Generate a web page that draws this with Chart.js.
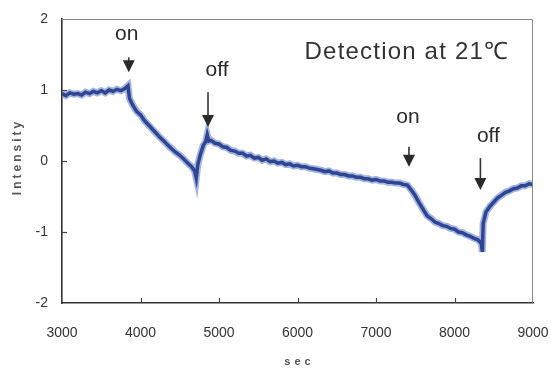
<!DOCTYPE html>
<html>
<head>
<meta charset="utf-8">
<script src="https://cdn.jsdelivr.net/npm/chart.js@4/dist/chart.umd.min.js"></script>
<style>
html,body{margin:0;padding:0;background:#fff;}
canvas{display:block;}
</style>
</head>
<body>
<canvas id="c" width="551" height="370"></canvas>
<script>
// ---- data ----
const timeSec = [3000,3050,3100,3150,3200,3250,3300,3350,3400,3450,3500,3550,3600,3650,3700,3750,3800,3840,
  3860,3900,3950,4000,4050,4100,4150,4200,4250,4300,4350,4400,4450,4500,4550,4600,4650,4690,4710,
  4730,4760,4800,4830,4850,4870,4900,4950,5000,5050,5100,5150,5200,5250,5300,5350,5400,5450,5500,
  5550,5600,5650,5700,5750,5800,5850,5900,5950,6000,6050,6100,6150,6200,6250,6300,6350,6400,6450,
  6500,6550,6600,6650,6700,6750,6800,6850,6900,6950,7000,7050,7100,7150,7200,7250,7300,7350,7400,
  7450,7500,7550,7600,7650,7700,7750,7800,7850,7900,7950,8000,8050,8100,8150,8200,8250,8300,8340,
  8355,8365,8400,8450,8500,8550,8600,8650,8700,8750,8800,8850,8900,8950,9000];
const intensity = [0.95,0.92,0.96,0.94,0.95,0.93,0.97,0.95,0.98,0.96,0.99,0.96,1.00,0.98,1.01,0.99,1.02,1.06,
  0.88,0.79,0.70,0.65,0.57,0.51,0.45,0.39,0.33,0.28,0.22,0.17,0.12,0.08,0.03,-0.03,-0.08,-0.14,-0.24,
  -0.05,0.08,0.22,0.27,0.37,0.28,0.29,0.25,0.24,0.20,0.19,0.15,0.14,0.11,0.11,0.07,0.08,0.04,0.05,
  0.01,0.03,-0.01,0.00,-0.03,-0.02,-0.05,-0.04,-0.07,-0.06,-0.08,-0.08,-0.10,-0.11,-0.12,-0.13,-0.15,-0.14,-0.17,
  -0.17,-0.19,-0.19,-0.21,-0.21,-0.23,-0.23,-0.25,-0.25,-0.27,-0.26,-0.28,-0.28,-0.30,-0.30,-0.31,-0.31,-0.33,-0.34,
  -0.41,-0.49,-0.59,-0.68,-0.77,-0.81,-0.86,-0.88,-0.91,-0.92,-0.95,-0.96,-1.00,-1.01,-1.04,-1.06,-1.09,-1.11,-1.16,
  -1.28,-0.88,-0.72,-0.64,-0.58,-0.52,-0.48,-0.44,-0.42,-0.39,-0.38,-0.35,-0.35,-0.32,-0.33];
const xTicks = [3000,4000,5000,6000,7000,8000,9000];
const yTicks = [-2,-1,0,1,2];
const eventLabels = ['on','off','on','off'];
const eventTimes = [3850,4860,7420,8330];
const noteText = 'Detection at 21\u2103';
const xTitle = 'sec';
const yTitle = 'Intensity';

// ---- annotation placement (data units) ----
const eventLayout = [
  {dx:-2, textY:1.79, top:1.46, tip:1.25},
  {dx:9,  textY:1.28, top:0.97, tip:0.48},
  {dx:-1, textY:0.61, top:0.20, tip:-0.08},
  {dx:8,  textY:0.35, top:0.04, tip:-0.41}
];

const points = timeSec.map((t,i)=>({x:t,y:intensity[i]}));

const decor = {
  id:'decor',
  afterDatasetsDraw(chart){
    const ctx = chart.ctx, xs = chart.scales.x, ys = chart.scales.y, a = chart.chartArea;
    ctx.save();
    // box top/right
    ctx.strokeStyle = '#8a8a8a'; ctx.lineWidth = 1;
    ctx.beginPath();
    ctx.moveTo(a.left, a.top+0.5); ctx.lineTo(a.right-0.5, a.top+0.5); ctx.lineTo(a.right-0.5, a.bottom);
    ctx.stroke();
    // inward ticks
    ctx.strokeStyle = '#444'; ctx.lineWidth = 1.2;
    xTicks.slice(1,-1).forEach(v=>{
      const px = Math.round(xs.getPixelForValue(v))+0.5;
      ctx.beginPath(); ctx.moveTo(px, a.bottom); ctx.lineTo(px, a.bottom-5); ctx.stroke();
    });
    yTicks.slice(1,-1).forEach(v=>{
      const py = Math.round(ys.getPixelForValue(v))+0.5;
      ctx.beginPath(); ctx.moveTo(a.left, py); ctx.lineTo(a.left+5, py); ctx.stroke();
    });
    // events
    ctx.fillStyle = '#2a2a2a'; ctx.strokeStyle = '#333';
    ctx.font = '21px "Liberation Sans", Arial, sans-serif';
    ctx.textAlign = 'center'; ctx.textBaseline = 'middle';
    eventTimes.forEach((t,i)=>{
      const L = eventLayout[i];
      const px = xs.getPixelForValue(t);
      ctx.fillText(eventLabels[i], px+L.dx, ys.getPixelForValue(L.textY));
      const yTop = ys.getPixelForValue(L.top), yTip = ys.getPixelForValue(L.tip);
      ctx.lineWidth = 1.6;
      ctx.beginPath(); ctx.moveTo(px, yTop); ctx.lineTo(px, yTip-10); ctx.stroke();
      ctx.beginPath(); ctx.moveTo(px-6, yTip-12); ctx.lineTo(px+6, yTip-12); ctx.lineTo(px, yTip); ctx.closePath(); ctx.fill();
    });
    // note
    ctx.font = '24px "Liberation Sans", Arial, sans-serif';
    try { ctx.letterSpacing = '1.2px'; } catch(e) {}
    ctx.textAlign = 'left';
    ctx.fillStyle = '#333';
    ctx.fillText(noteText, xs.getPixelForValue(6090), ys.getPixelForValue(1.53));
    // axis titles
    ctx.fillStyle = '#555';
    ctx.font = 'bold 12px "Liberation Sans", Arial, sans-serif';
    try { ctx.letterSpacing = '3px'; } catch(e) {}
    ctx.textAlign = 'center';
    ctx.save();
    ctx.translate(18, (a.top+a.bottom)/2 - 4);
    ctx.rotate(-Math.PI/2);
    ctx.fillText(yTitle, 0, 0);
    ctx.restore();
    ctx.font = 'bold 11px "Liberation Sans", Arial, sans-serif';
    try { ctx.letterSpacing = '4px'; } catch(e) {}
    ctx.fillText(xTitle, (a.left+a.right)/2 + 2, 362);
    ctx.restore();
  }
};

new Chart(document.getElementById('c'), {
  type:'line',
  data:{datasets:[{
    data:points,
    borderColor:'#2f4592',
    borderWidth:3.5,
    pointRadius:0,
    tension:0,
    fill:false,
    order:0
  },{
    data:points,
    borderColor:'rgba(90,120,200,0.55)',
    borderWidth:7,
    pointRadius:0,
    tension:0,
    fill:false,
    order:1
  }]},
  options:{
    responsive:false,
    animation:false,
    events:[],
    layout:{padding:{left:0,right:18,top:19,bottom:0}},
    plugins:{legend:{display:false},tooltip:{enabled:false}},
    scales:{
      x:{
        type:'linear', min:3000, max:9000,
        afterBuildTicks(s){ s.ticks = xTicks.map(v=>({value:v})); },
        afterFit(s){ s.height = 67; s.paddingLeft = 0; s.paddingRight = 0; },
        grid:{display:true, drawOnChartArea:false, drawTicks:false},
        border:{display:true, color:'#333', width:1.6},
        ticks:{padding:22, color:'#333', font:{family:'"Liberation Sans", Arial, sans-serif', size:14}, maxRotation:0, autoSkip:false,
          callback:(v)=>String(v)},
        title:{display:false}
      },
      y:{
        type:'linear', min:-2, max:2,
        afterBuildTicks(s){ s.ticks = yTicks.map(v=>({value:v})); },
        afterFit(s){ s.width = 62; s.paddingTop = 0; s.paddingBottom = 0; },
        grid:{display:true, drawOnChartArea:false, drawTicks:false},
        border:{display:true, color:'#333', width:1.6},
        ticks:{padding:14, color:'#333', font:{family:'"Liberation Sans", Arial, sans-serif', size:14},
          callback:(v)=>String(v)},
        title:{display:false}
      }
    }
  },
  plugins:[decor]
});
</script>
</body>
</html>
